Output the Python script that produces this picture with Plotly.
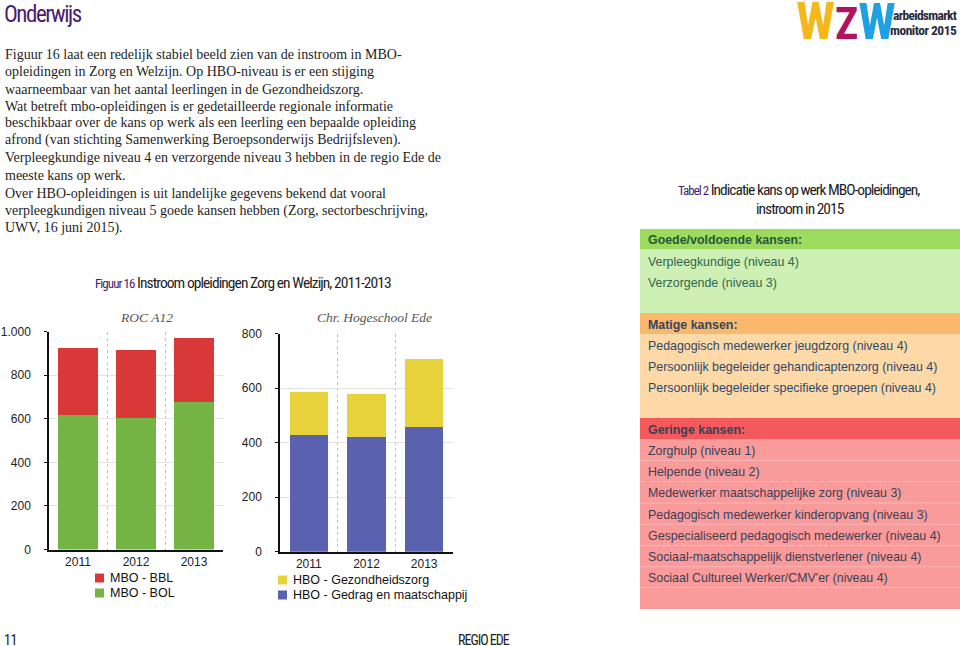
import plotly.graph_objects as go

W, H = 960, 646

# ---------------- data ----------------
years = ["2011", "2012", "2013"]
mbo_bol = [617, 602, 676]
mbo_bbl = [307, 311, 294]
hbo_gedrag = [429, 421, 458]
hbo_gezond = [157, 157, 249]

mbo_ticks = [0, 200, 400, 600, 800, 1000]
hbo_ticks = [0, 200, 400, 600, 800]

body_lines = [
    "Figuur 16 laat een redelijk stabiel beeld zien van de instroom in MBO-",
    "opleidingen in Zorg en Welzijn. Op HBO-niveau is er een stijging",
    "waarneembaar van het aantal leerlingen in de Gezondheidszorg.",
    "Wat betreft mbo-opleidingen is er gedetailleerde regionale informatie",
    "beschikbaar over de kans op werk als een leerling een bepaalde opleiding",
    "afrond (van stichting Samenwerking Beroepsonderwijs Bedrijfsleven).",
    "Verpleegkundige niveau 4 en verzorgende niveau 3 hebben in de regio Ede de",
    "meeste kans op werk.",
    "Over HBO-opleidingen is uit landelijke gegevens bekend dat vooral",
    "verpleegkundigen niveau 5 goede kansen hebben (Zorg, sectorbeschrijving,",
    "UWV, 16 juni 2015).",
]

goed_header = "Goede/voldoende kansen:"
goed_items = ["Verpleegkundige (niveau 4)", "Verzorgende (niveau 3)"]
matig_header = "Matige kansen:"
matig_items = [
    "Pedagogisch medewerker jeugdzorg (niveau 4)",
    "Persoonlijk begeleider gehandicaptenzorg (niveau 4)",
    "Persoonlijk begeleider specifieke groepen (niveau 4)",
]
gering_header = "Geringe kansen:"
gering_items = [
    "Zorghulp (niveau 1)",
    "Helpende (niveau 2)",
    "Medewerker maatschappelijke zorg (niveau 3)",
    "Pedagogisch medewerker kinderopvang (niveau 3)",
    "Gespecialiseerd pedagogisch medewerker (niveau 4)",
    "Sociaal-maatschappelijk dienstverlener (niveau 4)",
    "Sociaal Cultureel Werker/CMV'er (niveau 4)",
]

# ---------------- styles ----------------
C_BOL = "#74b445"
C_BBL = "#d83838"
C_GEZ = "#e8d23c"
C_GED = "#5a62b0"
PURPLE = "#4b1c6e"
COND = "Roboto Condensed, Open Sans, Roboto, sans-serif"
SANS = "Liberation Sans, Arial, sans-serif"
SERIF = "Liberation Serif, Times New Roman, serif"


def cond(s, ls=-0.3):
    return f"<span style='font-stretch:condensed;letter-spacing:{ls}px'>{s}</span>"


def px(x):
    return x / W


def py(y):
    return 1 - y / H


fig = go.Figure()

fig.add_trace(go.Bar(x=years, y=mbo_bol, name="MBO - BOL", marker=dict(color=C_BOL, line=dict(width=0)),
                     width=0.68, xaxis="x", yaxis="y", showlegend=False))
fig.add_trace(go.Bar(x=years, y=mbo_bbl, name="MBO - BBL", marker=dict(color=C_BBL, line=dict(width=0)),
                     width=0.68, xaxis="x", yaxis="y", showlegend=False))
fig.add_trace(go.Bar(x=years, y=hbo_gedrag, name="HBO - Gedrag en maatschappij", marker=dict(color=C_GED, line=dict(width=0)),
                     width=0.66, xaxis="x2", yaxis="y2", showlegend=False))
fig.add_trace(go.Bar(x=years, y=hbo_gezond, name="HBO - Gezondheidszorg", marker=dict(color=C_GEZ, line=dict(width=0)),
                     width=0.66, xaxis="x2", yaxis="y2", showlegend=False))

xcommon = dict(type="category", tickson="boundaries", showgrid=True, griddash="dot", gridcolor="#b9c3d6",
               gridwidth=1, showline=True, linecolor="#111", linewidth=1.5, ticks="", ticklabelstandoff=0,
               tickfont=dict(family=SANS, size=12, color="#222"), fixedrange=True, automargin=False)
ycommon = dict(showgrid=True, gridcolor="#e2e2e2", gridwidth=1, showline=True, linecolor="#111", linewidth=1.5,
               ticks="outside", ticklen=3, tickcolor="#111", tickfont=dict(family=SANS, size=12, color="#222"),
               separatethousands=True, zeroline=False, ticklabelstandoff=11, fixedrange=True, automargin=False)

fig.update_layout(
    xaxis=dict(domain=[px(49), px(223)], anchor="y", range=[-0.5, 2.5], **xcommon),
    yaxis=dict(domain=[py(549.5), py(331.5)], anchor="x", range=[0, 1000], tickvals=mbo_ticks, **ycommon),
    xaxis2=dict(domain=[px(280), px(453)], anchor="y2", range=[-0.5, 2.5], **xcommon),
    yaxis2=dict(domain=[py(551.7), py(333.7)], anchor="x2", range=[0, 800], tickvals=hbo_ticks, **ycommon),
    barmode="stack",
    separators=",.",
    width=W, height=H,
    margin=dict(l=0, r=0, t=0, b=0, autoexpand=False),
    paper_bgcolor="white", plot_bgcolor="white",
    showlegend=False,
)

ann = []
shapes = []


def text(x, y, s, size=13, color="#222", family=SANS, xanchor="left", **kw):
    ann.append(dict(x=px(x), y=py(y), xref="paper", yref="paper", text=s, showarrow=False,
                    xanchor=xanchor, yanchor="middle", font=dict(size=size, color=color, family=family), **kw))


def rect(x0, y0, x1, y1, color, line=None):
    shapes.append(dict(type="rect", xref="paper", yref="paper", x0=px(x0), x1=px(x1), y0=py(y1), y1=py(y0),
                       fillcolor=color, line=dict(width=0) if line is None else line, layer="below"))


# header
text(2, 14, cond("Onderwijs", -1.5), size=23, color=PURPLE, family=COND)

# body text
body_y = [55, 72, 89, 106, 123, 140, 158, 175, 193, 211, 228]
for yy, s in zip(body_y, body_lines):
    text(3, yy, s, size=14, color="#1e1e1e", family=SERIF)

# figure title
text(243, 283, cond(f"<span style='color:{PURPLE};font-size:13px'>Figuur 16</span> Instroom opleidingen Zorg en Welzijn, 2011-2013", -0.95),
     size=15.5, color="#1e1e1e", family=COND, xanchor="center")

# chart subtitles
text(146, 317, "<i>ROC A12</i>", size=13.5, color="#555", family=SERIF, xanchor="center")
text(374, 317, "<i>Chr. Hogeschool Ede</i>", size=13.5, color="#555", family=SERIF, xanchor="center")

# manual legends
leg = [
    (95, 578, C_BBL, "MBO - BBL"),
    (95, 593, C_BOL, "MBO - BOL"),
    (278, 580, C_GEZ, "HBO - Gezondheidszorg"),
    (278, 595, C_GED, "HBO - Gedrag en maatschappij"),
]
for lx, ly, c, s in leg:
    rect(lx, ly - 4.5, lx + 9, ly + 4.5, c)
    text(lx + 13, ly, s, size=12.5, color="#111", family=SANS)

# table title
text(799, 190, cond(f"<span style='color:{PURPLE};font-size:13px'>Tabel 2</span> Indicatie kans op werk MBO-opleidingen,", -1.0),
     size=15.5, color="#1e1e1e", family=COND, xanchor="center")
text(800, 209, cond("instroom in 2015", -1.0), size=15.5, color="#1e1e1e", family=COND, xanchor="center")

# table blocks
rect(640, 229, 960, 249, "#9cdb5e")
rect(640, 249, 960, 313, "#cff0b4")
rect(640, 313, 960, 334, "#f9b86c")
rect(640, 334, 960, 418, "#fed9a8")
rect(640, 418, 960, 439, "#f45a5c")
rect(640, 439, 960, 609, "#f99b9b")
for ly in [460.5, 481.7, 503, 524.3, 545.5, 566.7, 587.5]:
    shapes.append(dict(type="line", xref="paper", yref="paper", x0=px(640), x1=px(960), y0=py(ly), y1=py(ly),
                       line=dict(color="#fbb6b6", width=1), layer="below"))

TS = 12.4
text(646, 240, f"<b>{goed_header}</b>", size=TS, color="#27573a")
for i, s in enumerate(goed_items):
    text(646, 262 + 21.2 * i, s, size=TS, color="#2f6650")
text(646, 325, f"<b>{matig_header}</b>", size=TS, color="#324860")
for i, s in enumerate(matig_items):
    text(646, 345.5 + 21.2 * i, s, size=TS, color="#2e4868")
text(646, 430, f"<b>{gering_header}</b>", size=TS, color="#3a3f52")
for i, s in enumerate(gering_items):
    text(646, 451 + 21.2 * i, s, size=TS, color="#3a3f55")

# logo (single text with coloured letters)
logo = ("<span style='font-stretch:condensed;letter-spacing:0px'>"
        "<b><span style='color:#f5b81c'>W</span>"
        "<span style='color:#b0145e;font-size:44px'>Z</span>"
        "<span style='color:#1ea0e2;font-size:50px'>W</span></b></span>")
text(846, 22, logo, size=52, color="#f5b81c", family=COND, xanchor="center")
text(959, 15, cond("<b>arbeidsmarkt</b>", -0.7), size=13.5, color="#2a2a3a", family=COND, xanchor="right")
text(959, 30, cond("<b>monitor 2015</b>", -0.5), size=13.5, color="#2a2a3a", family=COND, xanchor="right")

# footer
text(2, 640, cond("11", -0.5), size=14, color="#222", family=COND)
text(456, 640, cond("REGIO EDE", -1.0), size=14, color="#222", family=COND)

fig.update_layout(annotations=ann, shapes=shapes)

fig.write_html("out.html", config={"displayModeBar": False},
               post_script="document.body.style.margin='0';document.body.style.overflow='hidden';")
